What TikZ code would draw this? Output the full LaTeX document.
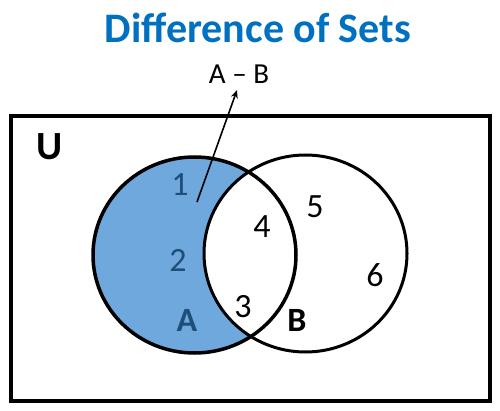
\documentclass[tikz,border=0pt]{standalone}
\usepackage{fontspec}
\setmainfont{Carlito}
\usetikzlibrary{arrows.meta}
\definecolor{setblue}{RGB}{111,168,220}
\definecolor{titleblue}{RGB}{0,112,192}
\definecolor{numblue}{RGB}{31,78,121}
\begin{document}
\begin{tikzpicture}[x=1pt,y=-1pt,
        num/.style={font=\fontsize{34}{34}\selectfont},
        setlabel/.style={font=\fontsize{34}{34}\selectfont\bfseries}]
        \useasboundingbox (0,0) rectangle (500,411);
        % universe and the two sets
        \draw[line width=3.5pt] (11,116) rectangle (490,401);
        \fill[setblue] (194.5,255) ellipse [x radius=101.5, y radius=98];
        \fill[white] (305.5,253.5) ellipse [x radius=101.5, y radius=98.5];
        \draw[line width=3.5pt] (194.5,255) ellipse [x radius=101.5, y radius=98];
        \draw[line width=3pt] (305.5,253.5) ellipse [x radius=101.5, y radius=98.5];
        % texts
        \node[font=\fontsize{42}{42}\selectfont\bfseries, text=titleblue] (title) at (258,28) {Difference of Sets};
        \node[font=\fontsize{29}{29}\selectfont, inner sep=1pt] (AmB) at (239,74) {A -- B};
        \node[font=\fontsize{40}{40}\selectfont\bfseries] (U) at (50,147) {U};
        \node[num, text=numblue] (n1) at (180,185) {1};
        \node[num, text=numblue] (n2) at (178,260) {2};
        \node[num] (n3) at (243,307) {3};
        \node[num] (n4) at (262,227) {4};
        \node[num] (n5) at (315,207) {5};
        \node[num] (n6) at (375,275) {6};
        \node[setlabel, text=numblue] (A) at (187,320) {A};
        \node[setlabel] (B) at (297,320) {B};
        % pointer to A - B
        \coordinate (tail) at (197,202);
        \draw[-{Stealth[length=8pt,width=7pt]}, line width=1.6pt, shorten >=6pt] (tail) -- (AmB.south);
\end{tikzpicture}
\end{document}
